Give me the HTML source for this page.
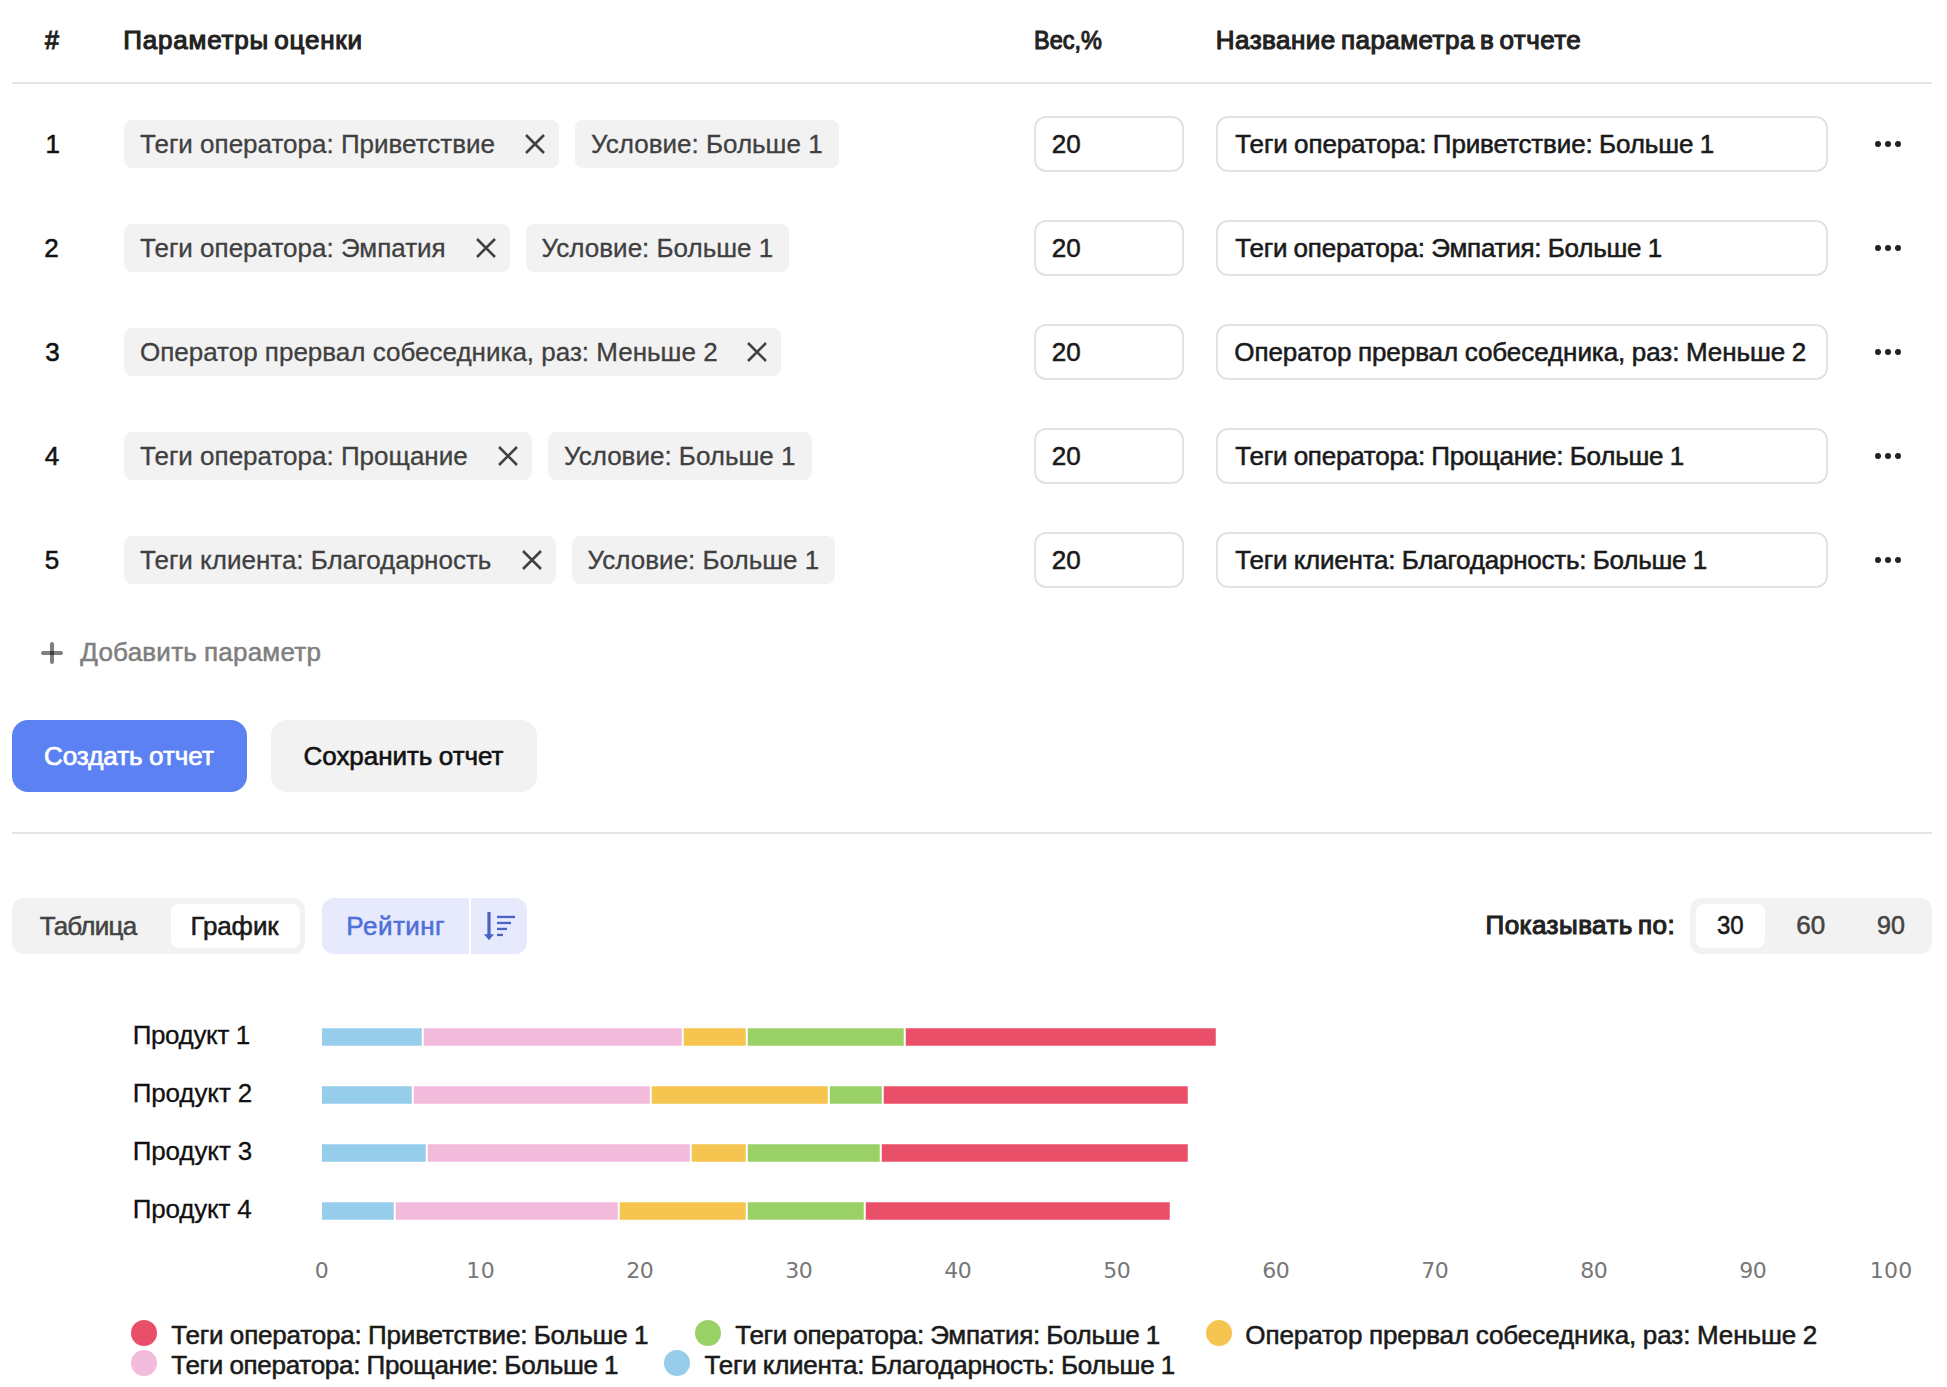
<!DOCTYPE html>
<html lang="ru">
<head>
<meta charset="utf-8">
<title>Параметры оценки</title>
<style>
html,body{margin:0;padding:0;background:#fff}
body{width:1947px;height:1387px;position:relative;overflow:hidden;font-family:"Liberation Sans",sans-serif;color:#000}
.abs{position:absolute}
.t{position:absolute;white-space:nowrap;line-height:1}
.hline{position:absolute;left:12px;width:1920px;height:2px;background:#e5e5e5}
.chips{position:absolute;left:124px;height:48px;display:flex;gap:16px;white-space:nowrap}
.chip{-webkit-text-stroke:0.3px #404040;display:block;position:relative;height:48px;box-sizing:border-box;padding:0 16px;border-radius:8px;background:#f2f2f2;font-size:26px;line-height:49px;color:#404040}
.chip.c1{padding-right:64px}
.chip svg{position:absolute;right:13px;top:13px}
.chip svg path{stroke:#404040;stroke-width:2.6;fill:none}
.inp{position:absolute;height:52px;border:2px solid #e2e2e2;border-radius:12px;background:#fff}
.dots{position:absolute;left:1875px;width:28px;height:8px}
.dots i{position:absolute;top:0;width:6.2px;height:6.2px;border-radius:50%;background:#222}
</style>
</head>
<body>
<div class="hline" style="top:82px"></div>
<div class="chips" style="top:120px"><span class="chip c1" style="width:435px">Теги оператора: Приветствие<svg width="22" height="22" viewBox="0 0 22 22"><path d="M2 2 L20 20 M20 2 L2 20"/></svg></span><span class="chip">Условие: Больше 1</span></div>
<div class="inp" style="left:1034px;top:116px;width:146px"></div>
<div class="inp" style="left:1216px;top:116px;width:608px"></div>
<div class="dots" style="top:141px"><i style="left:0"></i><i style="left:10px"></i><i style="left:20px"></i></div>
<div class="chips" style="top:224px"><span class="chip c1" style="width:385.6px">Теги оператора: Эмпатия<svg width="22" height="22" viewBox="0 0 22 22"><path d="M2 2 L20 20 M20 2 L2 20"/></svg></span><span class="chip">Условие: Больше 1</span></div>
<div class="inp" style="left:1034px;top:220px;width:146px"></div>
<div class="inp" style="left:1216px;top:220px;width:608px"></div>
<div class="dots" style="top:245px"><i style="left:0"></i><i style="left:10px"></i><i style="left:20px"></i></div>
<div class="chips" style="top:328px"><span class="chip c1" style="width:657.3px">Оператор прервал собеседника, раз: Меньше 2<svg width="22" height="22" viewBox="0 0 22 22"><path d="M2 2 L20 20 M20 2 L2 20"/></svg></span></div>
<div class="inp" style="left:1034px;top:324px;width:146px"></div>
<div class="inp" style="left:1216px;top:324px;width:608px"></div>
<div class="dots" style="top:349px"><i style="left:0"></i><i style="left:10px"></i><i style="left:20px"></i></div>
<div class="chips" style="top:432px"><span class="chip c1" style="width:407.9px">Теги оператора: Прощание<svg width="22" height="22" viewBox="0 0 22 22"><path d="M2 2 L20 20 M20 2 L2 20"/></svg></span><span class="chip">Условие: Больше 1</span></div>
<div class="inp" style="left:1034px;top:428px;width:146px"></div>
<div class="inp" style="left:1216px;top:428px;width:608px"></div>
<div class="dots" style="top:453px"><i style="left:0"></i><i style="left:10px"></i><i style="left:20px"></i></div>
<div class="chips" style="top:536px"><span class="chip c1" style="width:431.6px">Теги клиента: Благодарность<svg width="22" height="22" viewBox="0 0 22 22"><path d="M2 2 L20 20 M20 2 L2 20"/></svg></span><span class="chip">Условие: Больше 1</span></div>
<div class="inp" style="left:1034px;top:532px;width:146px"></div>
<div class="inp" style="left:1216px;top:532px;width:608px"></div>
<div class="dots" style="top:557px"><i style="left:0"></i><i style="left:10px"></i><i style="left:20px"></i></div>
<svg class="abs" style="left:40px;top:641px" width="24" height="24" viewBox="40 641 24 24"><rect x="41" y="651" width="22" height="4" rx="2" fill="rgba(0,0,0,0.5)"/><rect x="50" y="642" width="4" height="22" rx="2" fill="rgba(0,0,0,0.5)"/></svg>
<div class="abs" style="left:12px;top:720px;width:235px;height:72px;border-radius:16px;background:#5c81f3"></div>
<div class="abs" style="left:271px;top:720px;width:266px;height:72px;border-radius:16px;background:#f2f2f2"></div>
<div class="hline" style="top:832px"></div>
<div class="abs" style="left:12px;top:898px;width:293px;height:56px;border-radius:12px;background:#f2f2f2"></div>
<div class="abs" style="left:171px;top:904px;width:129px;height:44px;border-radius:8px;background:#fff"></div>
<div class="abs" style="left:322px;top:898px;width:147px;height:56px;border-radius:12px 0 0 12px;background:#e6eafc"></div>
<div class="abs" style="left:471px;top:898px;width:56px;height:56px;border-radius:0 12px 12px 0;background:#e6eafc"></div>
<svg class="abs" style="left:480px;top:908px" width="40" height="36" viewBox="0 0 40 36"><g fill="#4a63c2"><rect x="7.4" y="4" width="3.2" height="24"/><path d="M4 26.2H14L9 32.2Z"/><rect x="17" y="7.8" width="18" height="2.3"/><rect x="17" y="13.8" width="14" height="2.3"/><rect x="17" y="19.8" width="10" height="2.3"/><rect x="17" y="25.8" width="6" height="2.3"/></g></svg>
<div class="abs" style="left:1690px;top:898px;width:242px;height:56px;border-radius:12px;background:#f2f2f2"></div>
<div class="abs" style="left:1696px;top:904px;width:69px;height:44px;border-radius:8px;background:#fff"></div>
<svg class="abs" style="left:0;top:1000px" width="1947" height="260" viewBox="0 1000 1947 260" shape-rendering="auto"><rect x="322" y="1028.25" width="99.75" height="17.5" fill="#95cdea"/><rect x="423.75" y="1028.25" width="258.0" height="17.5" fill="#f2bbdb"/><rect x="683.75" y="1028.25" width="62.0" height="17.5" fill="#f5c550"/><rect x="747.75" y="1028.25" width="156.0" height="17.5" fill="#9ad166"/><rect x="905.75" y="1028.25" width="310.0" height="17.5" fill="#ea4f69"/><rect x="322" y="1086.25" width="89.75" height="17.5" fill="#95cdea"/><rect x="413.75" y="1086.25" width="236.0" height="17.5" fill="#f2bbdb"/><rect x="651.75" y="1086.25" width="176.0" height="17.5" fill="#f5c550"/><rect x="829.75" y="1086.25" width="52.0" height="17.5" fill="#9ad166"/><rect x="883.75" y="1086.25" width="304.0" height="17.5" fill="#ea4f69"/><rect x="322" y="1144.25" width="103.75" height="17.5" fill="#95cdea"/><rect x="427.75" y="1144.25" width="262.0" height="17.5" fill="#f2bbdb"/><rect x="691.75" y="1144.25" width="54.0" height="17.5" fill="#f5c550"/><rect x="747.75" y="1144.25" width="132.0" height="17.5" fill="#9ad166"/><rect x="881.75" y="1144.25" width="306.0" height="17.5" fill="#ea4f69"/><rect x="322" y="1202.25" width="71.75" height="17.5" fill="#95cdea"/><rect x="395.75" y="1202.25" width="222.0" height="17.5" fill="#f2bbdb"/><rect x="619.75" y="1202.25" width="126.0" height="17.5" fill="#f5c550"/><rect x="747.75" y="1202.25" width="116.0" height="17.5" fill="#9ad166"/><rect x="865.75" y="1202.25" width="304.0" height="17.5" fill="#ea4f69"/></svg>
<div class="abs" style="left:130.7px;top:1320px;width:26px;height:26px;border-radius:50%;background:#ea4f69"></div>
<div class="abs" style="left:694.5px;top:1320px;width:26px;height:26px;border-radius:50%;background:#9ad166"></div>
<div class="abs" style="left:1206px;top:1320px;width:26px;height:26px;border-radius:50%;background:#f5c550"></div>
<div class="abs" style="left:130.7px;top:1350px;width:26px;height:26px;border-radius:50%;background:#f2bbdb"></div>
<div class="abs" style="left:664px;top:1350px;width:26px;height:26px;border-radius:50%;background:#95cdea"></div>
<div class="t" style='left:45.03px;top:26.69px;font-size:26px;color:#222;-webkit-text-stroke:1.1px #222;transform:scaleX(0.963);transform-origin:0 0;'>#</div>
<div class="t" style='left:123.35px;top:26.69px;font-size:26px;color:#222;letter-spacing:0.769px;word-spacing:-2.5px;-webkit-text-stroke:1.1px #222;'>Параметры оценки</div>
<div class="t" style='left:1034.09px;top:26.69px;font-size:26px;color:#222;-webkit-text-stroke:1.1px #222;transform:scaleX(0.903);transform-origin:0 0;'>Вес,%</div>
<div class="t" style='left:1215.85px;top:26.69px;font-size:26px;color:#222;letter-spacing:0.462px;word-spacing:-2.5px;-webkit-text-stroke:1.1px #222;'>Название параметра в отчете</div>
<div class="t" style='left:45.57px;top:130.69px;font-size:26px;color:#111;-webkit-text-stroke:0.55px #111;'>1</div>
<div class="t" style='left:1051.79px;top:130.99px;font-size:26px;color:#1a1a1a;-webkit-text-stroke:0.55px #1a1a1a;'>20</div>
<div class="t" style='left:1235.28px;top:130.99px;font-size:26px;color:#1a1a1a;letter-spacing:-0.134px;word-spacing:-0.6px;-webkit-text-stroke:0.55px #1a1a1a;'>Теги оператора: Приветствие: Больше 1</div>
<div class="t" style='left:44.27px;top:234.69px;font-size:26px;color:#111;-webkit-text-stroke:0.55px #111;'>2</div>
<div class="t" style='left:1051.79px;top:234.99px;font-size:26px;color:#1a1a1a;-webkit-text-stroke:0.55px #1a1a1a;'>20</div>
<div class="t" style='left:1235.28px;top:234.99px;font-size:26px;color:#1a1a1a;letter-spacing:-0.233px;word-spacing:-0.6px;-webkit-text-stroke:0.55px #1a1a1a;'>Теги оператора: Эмпатия: Больше 1</div>
<div class="t" style='left:45.27px;top:338.69px;font-size:26px;color:#111;-webkit-text-stroke:0.55px #111;'>3</div>
<div class="t" style='left:1051.79px;top:338.99px;font-size:26px;color:#1a1a1a;-webkit-text-stroke:0.55px #1a1a1a;'>20</div>
<div class="t" style='left:1234.28px;top:338.99px;font-size:26px;color:#1a1a1a;letter-spacing:-0.065px;word-spacing:-0.6px;-webkit-text-stroke:0.55px #1a1a1a;'>Оператор прервал собеседника, раз: Меньше 2</div>
<div class="t" style='left:44.77px;top:442.69px;font-size:26px;color:#111;-webkit-text-stroke:0.55px #111;'>4</div>
<div class="t" style='left:1051.79px;top:442.99px;font-size:26px;color:#1a1a1a;-webkit-text-stroke:0.55px #1a1a1a;'>20</div>
<div class="t" style='left:1235.28px;top:442.99px;font-size:26px;color:#1a1a1a;letter-spacing:-0.228px;word-spacing:-0.6px;-webkit-text-stroke:0.55px #1a1a1a;'>Теги оператора: Прощание: Больше 1</div>
<div class="t" style='left:44.77px;top:546.69px;font-size:26px;color:#111;-webkit-text-stroke:0.55px #111;'>5</div>
<div class="t" style='left:1051.79px;top:546.99px;font-size:26px;color:#1a1a1a;-webkit-text-stroke:0.55px #1a1a1a;'>20</div>
<div class="t" style='left:1235.28px;top:546.99px;font-size:26px;color:#1a1a1a;letter-spacing:-0.227px;word-spacing:-0.6px;-webkit-text-stroke:0.55px #1a1a1a;'>Теги клиента: Благодарность: Больше 1</div>
<div class="t" style='left:80.28px;top:639.19px;font-size:26px;color:#7f7f7f;letter-spacing:0.236px;word-spacing:-0.6px;-webkit-text-stroke:0.55px #7f7f7f;'>Добавить параметр</div>
<div class="t" style='left:43.95px;top:743.29px;font-size:26px;color:#fff;letter-spacing:-0.031px;word-spacing:-0.6px;-webkit-text-stroke:0.7px #fff;'>Создать отчет</div>
<div class="t" style='left:303.60px;top:743.29px;font-size:26px;color:#111;letter-spacing:-0.055px;word-spacing:-0.6px;-webkit-text-stroke:0.6px #111;'>Сохранить отчет</div>
<div class="t" style='left:39.67px;top:912.59px;font-size:26px;color:#444;letter-spacing:-0.739px;-webkit-text-stroke:0.55px #444;'>Таблица</div>
<div class="t" style='left:190.38px;top:912.59px;font-size:26px;color:#1a1a1a;letter-spacing:-0.101px;-webkit-text-stroke:0.55px #1a1a1a;'>График</div>
<div class="t" style='left:346.27px;top:912.59px;font-size:26px;color:#4f6fd9;letter-spacing:0.480px;-webkit-text-stroke:0.55px #4f6fd9;'>Рейтинг</div>
<div class="t" style='left:1485.55px;top:912.49px;font-size:26px;color:#222;letter-spacing:0.454px;word-spacing:-2.5px;-webkit-text-stroke:1.1px #222;'>Показывать по:</div>
<div class="t" style='left:1717.25px;top:912.49px;font-size:26px;color:#1a1a1a;-webkit-text-stroke:0.55px #1a1a1a;transform:scaleX(0.924);transform-origin:0 0;'>30</div>
<div class="t" style='left:1796.29px;top:912.49px;font-size:26px;color:#444;-webkit-text-stroke:0.55px #444;'>60</div>
<div class="t" style='left:1877.30px;top:912.49px;font-size:26px;color:#444;-webkit-text-stroke:0.55px #444;transform:scaleX(0.964);transform-origin:0 0;'>90</div>
<div class="t" style='left:132.65px;top:1021.74px;font-size:26px;color:#111;letter-spacing:-0.351px;-webkit-text-stroke:0.3px #111;'>Продукт 1</div>
<div class="t" style='left:132.65px;top:1079.74px;font-size:26px;color:#111;letter-spacing:-0.101px;-webkit-text-stroke:0.3px #111;'>Продукт 2</div>
<div class="t" style='left:132.65px;top:1137.74px;font-size:26px;color:#111;letter-spacing:-0.101px;-webkit-text-stroke:0.3px #111;'>Продукт 3</div>
<div class="t" style='left:132.65px;top:1195.74px;font-size:26px;color:#111;letter-spacing:-0.163px;-webkit-text-stroke:0.3px #111;'>Продукт 4</div>
<div class="t" style='left:314.75px;top:1259.79px;font-size:22px;color:#777;font-family:"DejaVu Sans","Liberation Sans",sans-serif;'>0</div>
<div class="t" style='left:466.25px;top:1259.79px;font-size:22px;color:#777;font-family:"DejaVu Sans","Liberation Sans",sans-serif;letter-spacing:0.503px;'>10</div>
<div class="t" style='left:626.25px;top:1259.79px;font-size:22px;color:#777;font-family:"DejaVu Sans","Liberation Sans",sans-serif;letter-spacing:-0.497px;'>20</div>
<div class="t" style='left:785.25px;top:1259.79px;font-size:22px;color:#777;font-family:"DejaVu Sans","Liberation Sans",sans-serif;letter-spacing:-0.497px;'>30</div>
<div class="t" style='left:944.25px;top:1259.79px;font-size:22px;color:#777;font-family:"DejaVu Sans","Liberation Sans",sans-serif;letter-spacing:-0.497px;'>40</div>
<div class="t" style='left:1103.25px;top:1259.79px;font-size:22px;color:#777;font-family:"DejaVu Sans","Liberation Sans",sans-serif;letter-spacing:-0.497px;'>50</div>
<div class="t" style='left:1262.25px;top:1259.79px;font-size:22px;color:#777;font-family:"DejaVu Sans","Liberation Sans",sans-serif;letter-spacing:-0.497px;'>60</div>
<div class="t" style='left:1421.25px;top:1259.79px;font-size:22px;color:#777;font-family:"DejaVu Sans","Liberation Sans",sans-serif;letter-spacing:-0.497px;'>70</div>
<div class="t" style='left:1580.25px;top:1259.79px;font-size:22px;color:#777;font-family:"DejaVu Sans","Liberation Sans",sans-serif;letter-spacing:-0.497px;'>80</div>
<div class="t" style='left:1739.25px;top:1259.79px;font-size:22px;color:#777;font-family:"DejaVu Sans","Liberation Sans",sans-serif;letter-spacing:-0.497px;'>90</div>
<div class="t" style='left:1869.75px;top:1259.79px;font-size:22px;color:#777;font-family:"DejaVu Sans","Liberation Sans",sans-serif;letter-spacing:0.253px;'>100</div>
<div class="t" style='left:171.28px;top:1321.99px;font-size:26px;color:#1a1a1a;letter-spacing:-0.181px;word-spacing:-0.6px;-webkit-text-stroke:0.55px #1a1a1a;'>Теги оператора: Приветствие: Больше 1</div>
<div class="t" style='left:735.27px;top:1321.99px;font-size:26px;color:#1a1a1a;letter-spacing:-0.296px;word-spacing:-0.6px;-webkit-text-stroke:0.55px #1a1a1a;'>Теги оператора: Эмпатия: Больше 1</div>
<div class="t" style='left:1245.28px;top:1321.99px;font-size:26px;color:#1a1a1a;letter-spacing:-0.065px;word-spacing:-0.6px;-webkit-text-stroke:0.55px #1a1a1a;'>Оператор прервал собеседника, раз: Меньше 2</div>
<div class="t" style='left:171.28px;top:1351.69px;font-size:26px;color:#1a1a1a;letter-spacing:-0.279px;word-spacing:-0.6px;-webkit-text-stroke:0.55px #1a1a1a;'>Теги оператора: Прощание: Больше 1</div>
<div class="t" style='left:704.57px;top:1351.69px;font-size:26px;color:#1a1a1a;letter-spacing:-0.264px;word-spacing:-0.6px;-webkit-text-stroke:0.55px #1a1a1a;'>Теги клиента: Благодарность: Больше 1</div>
</body>
</html>
